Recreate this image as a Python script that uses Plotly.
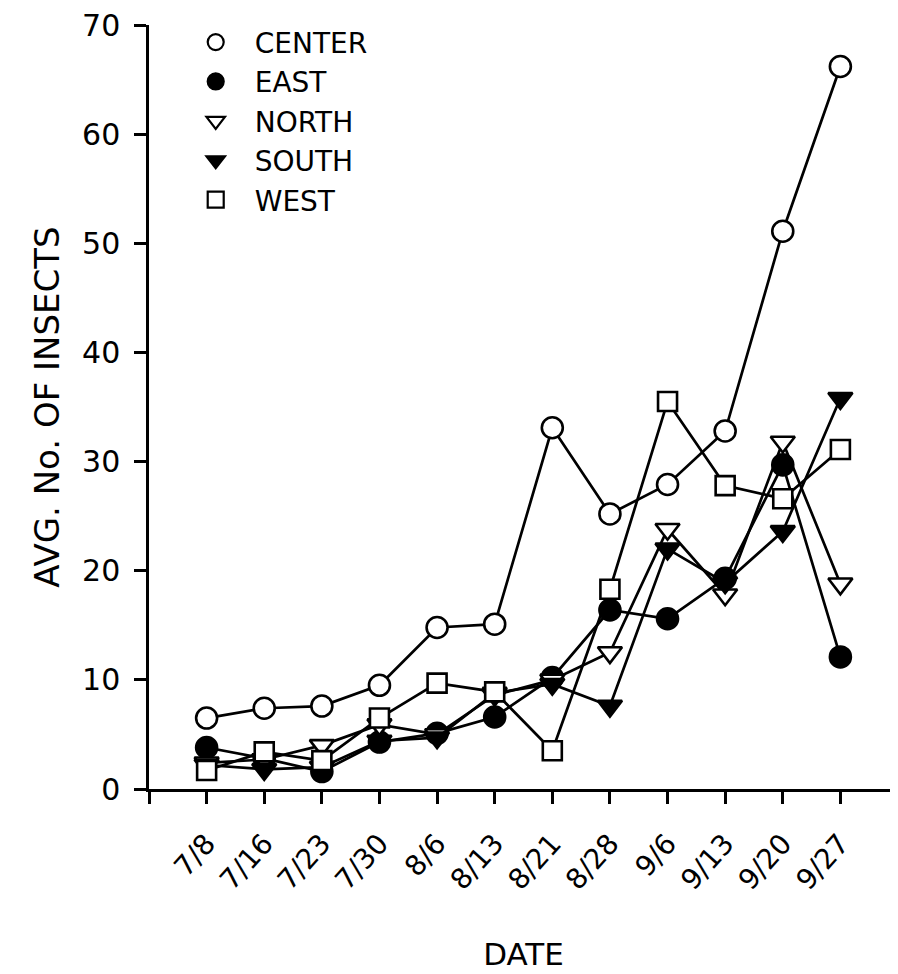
import plotly.graph_objects as go

dates = ['7/8', '7/16', '7/23', '7/30', '8/6', '8/13', '8/21', '8/28', '9/6', '9/13', '9/20', '9/27']
center = [6.5, 7.4, 7.6, 9.5, 14.8, 15.1, 33.1, 25.2, 27.9, 32.8, 51.1, 66.2]
east = [3.8, 2.8, 1.6, 4.3, 5.1, 6.6, 10.2, 16.4, 15.6, 19.3, 29.7, 12.1]
north = [2.4, 2.7, 4.0, 5.9, 5.0, 8.6, 10.0, 12.5, 23.8, 17.8, 31.8, 18.8]
south = [2.2, 1.8, 2.0, 4.4, 4.7, 8.8, 9.6, 7.6, 22.0, 18.9, 23.6, 35.8]
west = [1.7, 3.4, 2.6, 6.5, 9.7, 8.9, 3.5, 18.3, 35.5, 27.8, 26.6, 31.1]

series = [
    ('CENTER', center, 'circle', 'white', 21),
    ('EAST', east, 'circle', 'black', 21),
    ('NORTH', north, 'triangle-down', 'white', 21),
    ('SOUTH', south, 'triangle-down', 'black', 21),
    ('WEST', west, 'square', 'white', 19),
]

xidx = list(range(len(dates)))
FONT = 'DejaVu Sans'

fig = go.Figure()
for name, vals, sym, fill, sz in series:
    fig.add_trace(go.Scatter(
        x=xidx, y=vals, name=name, mode='lines+markers', showlegend=False,
        line=dict(color='black', width=2.7),
        marker=dict(symbol=sym, size=sz, color=fill,
                    line=dict(color='black', width=2.6)),
        cliponaxis=False,
    ))
# legend entries: markers only, as in the original key
for name, vals, sym, fill, sz in series:
    fig.add_trace(go.Scatter(
        x=[None], y=[None], name=name, mode='markers', showlegend=True,
        marker=dict(symbol=sym, size=16, color=fill,
                    line=dict(color='black', width=2.2)),
    ))

# page body adds an 8px margin, so the figure is sized to fit the window
fig.update_layout(
    width=890, height=966,
    margin=dict(l=141, r=0, t=17, b=185, autoexpand=False),
    paper_bgcolor='white', plot_bgcolor='white',
    font=dict(family=FONT, color='black', size=28),
    showlegend=True,
    legend=dict(x=0.037, y=1.01, xanchor='left', yanchor='top',
                bgcolor='rgba(0,0,0,0)', font=dict(size=28, family=FONT),
                itemsizing='trace', itemwidth=68, tracegroupgap=0),
    xaxis=dict(
        range=[-1, 12], tickmode='array',
        tickvals=[-1] + xidx, ticktext=[''] + dates,
        showline=True, linecolor='black', linewidth=2.5,
        ticks='outside', ticklen=12, tickwidth=2.5, tickcolor='black',
        tickangle=-48, tickfont=dict(size=28, family=FONT),
        ticklabelstandoff=12, ticklabeloverflow='allow',
        showgrid=False, zeroline=False, automargin=False,
        title=dict(text='DATE', font=dict(size=31, family=FONT), standoff=49),
    ),
    yaxis=dict(
        range=[0, 70], tickmode='array', tickvals=list(range(0, 71, 10)),
        showline=True, linecolor='black', linewidth=2.5,
        ticks='outside', ticklen=12, tickwidth=2.5, tickcolor='black',
        tickfont=dict(size=30, family=FONT),
        ticklabelstandoff=8, ticklabeloverflow='allow',
        showgrid=False, zeroline=False, automargin=False,
        title=dict(text='AVG. No. OF INSECTS', font=dict(size=34, family=FONT), standoff=13),
    ),
)

fig.write_html('out.html')
